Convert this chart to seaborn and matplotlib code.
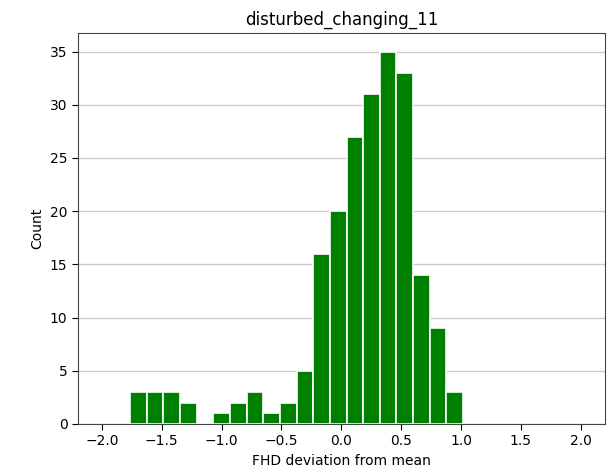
import numpy as np
import pandas as pd
import matplotlib
matplotlib.use("Agg")
import matplotlib.pyplot as plt
import seaborn as sns

# DATA
# bin counts (20 equal bins)
counts = [3, 3, 3, 2, 0, 1, 2, 3, 1, 2, 5, 16, 20, 27, 31, 35, 33, 14, 9, 3]
x_min, x_max = -1.765, 1.017

edges = np.linspace(x_min, x_max, len(counts) + 1)
centers = (edges[:-1] + edges[1:]) / 2
df = pd.DataFrame({"dev": centers, "n": counts})

# PLOT
sns.set_style("white")
plt.rcParams.update({"text.color": "black", "axes.labelcolor": "black",
                     "xtick.color": "black", "ytick.color": "black"})
fig, ax = plt.subplots(figsize=(6.09, 4.72), dpi=100)
fig.subplots_adjust(left=0.128, right=0.993, top=0.930, bottom=0.102)

sns.histplot(data=df, x="dev", weights="n", bins=len(counts),
             binrange=(x_min, x_max), color="green",
             alpha=1, edgecolor="white", linewidth=1.2, ax=ax)

ax.set_xlim(-2.2, 2.2)
ax.set_ylim(0, 36.75)
ax.set_xticks([-2.0, -1.5, -1.0, -0.5, 0.0, 0.5, 1.0, 1.5, 2.0])
ax.set_yticks(range(0, 36, 5))
ax.yaxis.grid(True, color="#cccccc", linewidth=1)
ax.set_axisbelow(True)
ax.tick_params(axis="both", which="both", direction="out", length=4,
               left=True, bottom=True, labelsize=10)
for s in ax.spines.values():
    s.set_color("#444444")

ax.set_title("disturbed_changing_11", fontsize=12)
ax.set_xlabel("FHD deviation from mean", fontsize=10)
ax.set_ylabel("Count", fontsize=10)

plt.savefig("out.png", dpi=100)
